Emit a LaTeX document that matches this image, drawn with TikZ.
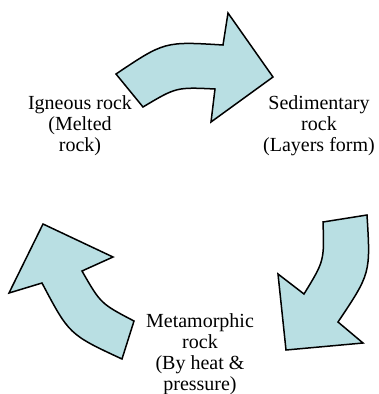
\documentclass[tikz,border=0pt]{standalone}
\usepackage{fontspec}
\setmainfont{Liberation Serif}
\usepackage{xcolor}
\usepackage{tikz}

\definecolor{arrowfill}{RGB}{185,223,227}

\begin{document}
\begin{tikzpicture}[x=1pt, y=-1pt,
    blockarrow/.style={draw=black, line width=1.5pt, line join=miter, fill=arrowfill},
    rocklabel/.style={align=center, inner sep=0pt, font=\fontsize{20}{21}\selectfont}]
\useasboundingbox (0,0) rectangle (378,394);

% Top arrow (igneous -> sedimentary)
\draw[blockarrow] (116,74) .. controls (164.6,41.4) .. (223,45) -- (228,13) -- (273,77)
    -- (211,122) -- (215,89) .. controls (176.3,87.1) .. (143,107) -- cycle;

% Right arrow (sedimentary -> metamorphic)
\draw[blockarrow] (367,215) .. controls (370.6,273.4) .. (338,322) -- (363,343) -- (286,350)
    -- (278,274) -- (304,294) .. controls (324.3,260.9) .. (323,222) -- cycle;

% Left arrow (metamorphic -> igneous)
\draw[blockarrow] (122,359) .. controls (69.2,334.5) .. (42,283) -- (9,293) -- (43,224)
    -- (113,257) -- (82,271) .. controls (100.7,303.6) .. (134,321) -- cycle;

% Rock labels
\node[rocklabel] (igneous) at (80,126) {Igneous rock\\(Melted\\rock)};
\node[rocklabel] (sedimentary) at (319,126) {Sedimentary\\rock\\(Layers form)};
\node[rocklabel] (metamorphic) at (200,354) {Metamorphic\\rock\\(By heat \&\\pressure)};
\end{tikzpicture}
\end{document}
